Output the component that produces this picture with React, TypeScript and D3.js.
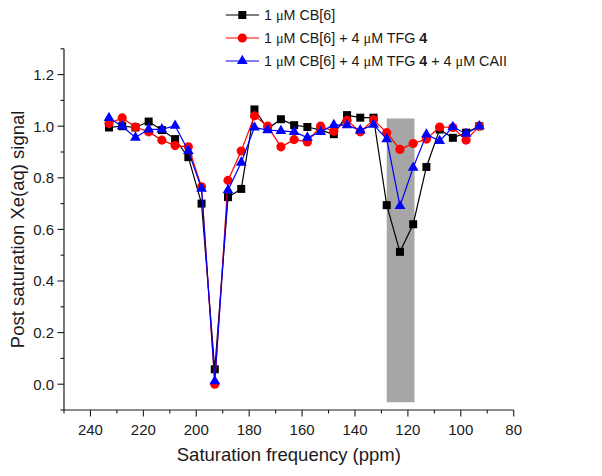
import React from "react";
import * as d3 from "d3";

const ppm = [233, 228, 223, 218, 213, 208, 203, 198, 193, 188, 183, 178, 173, 168, 163, 158, 153, 148, 143, 138, 133, 128, 123, 118, 113, 108, 103, 98, 93];
const cb6 = [0.995, 1.0, 0.995, 1.018, 0.985, 0.95, 0.88, 0.7, 0.058, 0.725, 0.757, 1.065, 0.99, 1.027, 1.004, 0.997, 0.985, 0.969, 1.043, 1.033, 1.033, 0.694, 0.513, 0.62, 0.842, 0.987, 0.955, 0.975, 1.0];
const cb6Tfg = [1.01, 1.032, 0.997, 0.978, 0.946, 0.925, 0.92, 0.765, 0.0, 0.79, 0.904, 1.04, 1.0, 0.92, 0.948, 0.939, 1.0, 0.98, 1.023, 0.978, 1.025, 0.975, 0.91, 0.933, 0.95, 0.997, 0.995, 0.946, 1.0];
const cb6TfgCaii = [1.032, 1.0, 0.956, 0.988, 0.988, 1.002, 0.904, 0.758, 0.012, 0.752, 0.859, 0.995, 0.985, 0.982, 0.978, 0.956, 0.978, 1.005, 1.004, 0.984, 1.006, 0.95, 0.691, 0.839, 0.968, 0.943, 0.997, 0.971, 1.0];

const xMajorTicks = [240, 220, 200, 180, 160, 140, 120, 100, 80];
const xMinorTicks = [250, 230, 210, 190, 170, 150, 130, 110, 90];
const yMajorTicks = [0.0, 0.2, 0.4, 0.6, 0.8, 1.0, 1.2];
const yMinorTicks = [-0.1, 0.1, 0.3, 0.5, 0.7, 0.9, 1.1, 1.3];

const bandPpm = [128, 117.5];
const bandVal = [-0.07, 1.03];

const FONT = "'Liberation Sans', Arial, sans-serif";

const x = d3.scaleLinear().domain([250, 80]).range([64, 513.7]);
const y = d3.scaleLinear().domain([-0.1, 1.3]).range([410, 48.8]);

const series = [
  { key: "cb6", values: cb6, color: "#000000", shape: d3.symbolSquare, size: 64 },
  { key: "tfg", values: cb6Tfg, color: "#ff0000", shape: d3.symbolCircle, size: 66 },
  { key: "caii", values: cb6TfgCaii, color: "#0000ff", shape: d3.symbolTriangle, size: 50 },
];

function Mu() {
  return <tspan fontFamily="'Liberation Serif', 'Times New Roman', serif">μ</tspan>;
}

export default function App() {
  const line = d3.line<number>().x((_, i) => x(ppm[i])).y((d) => y(d));
  const legendRows = [
    { s: series[0], y: 15, label: (<><tspan>1 </tspan><Mu /><tspan>M CB[6]</tspan></>) },
    { s: series[1], y: 38, label: (<><tspan>1 </tspan><Mu /><tspan>M CB[6] + 4 </tspan><Mu /><tspan>M TFG </tspan><tspan fontWeight="bold">4</tspan></>) },
    { s: series[2], y: 61, label: (<><tspan>1 </tspan><Mu /><tspan>M CB[6] + 4 </tspan><Mu /><tspan>M TFG </tspan><tspan fontWeight="bold">4</tspan><tspan> + 4 </tspan><Mu /><tspan>M CAII</tspan></>) },
  ];
  const x0 = x.range()[0];
  const yBottom = y.range()[0];
  return (
    <div style={{ position: "fixed", left: 0, top: 0 }}>
      <svg width={602} height={476} style={{ display: "block", background: "#fff" }} fontFamily={FONT}>
        <rect x={x(bandPpm[0])} y={y(bandVal[1])} width={x(bandPpm[1]) - x(bandPpm[0])} height={y(bandVal[0]) - y(bandVal[1])} fill="#a6a6a6" />
        {/* axes */}
        <line x1={x0} x2={x0} y1={y(1.3)} y2={yBottom} stroke="#1a1a1a" strokeWidth={1.2} />
        <line x1={x0} x2={x(80)} y1={yBottom} y2={yBottom} stroke="#1a1a1a" strokeWidth={1.2} />
        {yMajorTicks.map((t) => (
          <g key={"ym" + t}>
            <line x1={x0 - 6.5} x2={x0} y1={y(t)} y2={y(t)} stroke="#1a1a1a" strokeWidth={1.1} />
            <text x={x0 - 10} y={y(t)} dy="0.36em" textAnchor="end" fontSize={15} fill="#1a1a1a">{t.toFixed(1)}</text>
          </g>
        ))}
        {yMinorTicks.map((t) => (
          <line key={"yn" + t} x1={x0 - 3.5} x2={x0} y1={y(t)} y2={y(t)} stroke="#1a1a1a" strokeWidth={1.1} />
        ))}
        {xMajorTicks.map((t) => (
          <g key={"xm" + t}>
            <line x1={x(t)} x2={x(t)} y1={yBottom} y2={yBottom + 6.5} stroke="#1a1a1a" strokeWidth={1.1} />
            <text x={x(t)} y={434.5} textAnchor="middle" fontSize={15} fill="#1a1a1a">{t}</text>
          </g>
        ))}
        {xMinorTicks.map((t) => (
          <line key={"xn" + t} x1={x(t)} x2={x(t)} y1={yBottom} y2={yBottom + 3.5} stroke="#1a1a1a" strokeWidth={1.1} />
        ))}
        <text x={(x(250) + x(80)) / 2} y={461} textAnchor="middle" fontSize={18.5} fill="#1a1a1a">Saturation frequency (ppm)</text>
        <text transform={`translate(24, ${(y(1.3) + yBottom) / 2}) rotate(-90)`} textAnchor="middle" fontSize={18.5} fill="#1a1a1a">Post saturation Xe(aq) signal</text>
        {/* series */}
        {series.map((s) => (
          <g key={s.key}>
            <path d={line(s.values) || ""} fill="none" stroke={s.color} strokeWidth={1.2} />
            {s.values.map((v, i) => (
              <path key={i} transform={`translate(${x(ppm[i])},${y(v)})`} d={d3.symbol(s.shape, s.size)() || ""} fill={s.color} />
            ))}
          </g>
        ))}
        {/* legend */}
        {legendRows.map((r, i) => (
          <g key={i}>
            <line x1={225.7} x2={259} y1={r.y} y2={r.y} stroke={r.s.color} strokeWidth={1.2} />
            <path transform={`translate(242.3,${r.y})`} d={d3.symbol(r.s.shape, r.s.size)() || ""} fill={r.s.color} />
            <text x={264} y={r.y} dy="0.36em" fontSize={14.3} fill="#1a1a1a">{r.label}</text>
          </g>
        ))}
      </svg>
    </div>
  );
}
